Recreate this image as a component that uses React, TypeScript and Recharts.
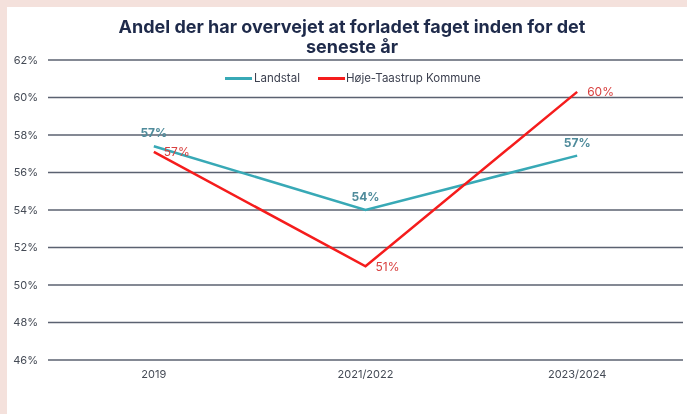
import { LineChart, Line, XAxis, YAxis, CartesianGrid, LabelList } from "recharts";

const years = ["2019", "2021/2022", "2023/2024"];
const landstal = [57.4, 54.0, 56.9];
const hojeTaastrup = [57.1, 51.0, 60.3];
const yTicks = [46, 48, 50, 52, 54, 56, 58, 60, 62];

const data = years.map((year, i) => ({
  year,
  landstal: landstal[i],
  hoje: hojeTaastrup[i],
}));

const TEAL = "#38a9b6";
const RED = "#f51c1c";
const FONT = "Inter, 'Noto Sans', sans-serif";

const pct = (v: unknown) => `${Math.round(Number(v))}%`;

const App = () => {
  return (
    <div
      style={{
        position: "fixed",
        left: 0,
        top: 0,
        width: 687,
        height: 414,
        background: "#f4e1dc",
        fontFamily: FONT,
      }}
    >
      <div
        style={{
          position: "absolute",
          left: 7,
          top: 7,
          width: 680,
          height: 407,
          background: "#ffffff",
        }}
      >
        <div
          style={{
            position: "absolute",
            left: 0,
            top: 10,
            width: 690,
            textAlign: "center",
            fontSize: 18,
            fontWeight: 700,
            lineHeight: "20px",
            color: "#1e2a4a",
          }}
        >
          Andel der har overvejet at forladet faget inden for det
          <br />
          seneste år
        </div>

        <div
          style={{
            position: "absolute",
            left: 218,
            top: 64,
            display: "flex",
            alignItems: "center",
            fontSize: 11.5,
            color: "#3d4150",
          }}
        >
          <span style={{ width: 27, height: 3, background: TEAL, display: "inline-block" }} />
          <span style={{ marginLeft: 2 }}>Landstal</span>
          <span
            style={{ width: 27, height: 3, background: RED, display: "inline-block", marginLeft: 18 }}
          />
          <span style={{ marginLeft: 1 }}>Høje-Taastrup Kommune</span>
        </div>

        <LineChart
          width={680}
          height={407}
          data={data}
          margin={{ top: 53, right: 4, bottom: 24, left: 0 }}
        >
          <CartesianGrid vertical={false} stroke="#5b6271" strokeWidth={1.5} />
          <XAxis
            dataKey="year"
            scale="band"
            axisLine={false}
            tickLine={false}
            tick={{ fontSize: 11, fill: "#444a55", fontFamily: FONT }}
            tickMargin={4}
          />
          <YAxis
            width={41}
            domain={[46, 62]}
            ticks={yTicks}
            tickFormatter={(v) => `${v}%`}
            axisLine={false}
            tickLine={false}
            tick={{ fontSize: 11, fill: "#444a55", fontFamily: FONT }}
            tickMargin={4}
          />
          <Line
            dataKey="landstal"
            stroke={TEAL}
            strokeWidth={2.5}
            dot={false}
            isAnimationActive={false}
          >
            <LabelList
              dataKey="landstal"
              position="top"
              offset={9}
              formatter={pct}
              style={{ fill: "#4f8b9b", fontSize: 12, fontWeight: 700, fontFamily: FONT }}
            />
          </Line>
          <Line
            dataKey="hoje"
            stroke={RED}
            strokeWidth={2.5}
            dot={false}
            isAnimationActive={false}
          >
            <LabelList
              dataKey="hoje"
              position="right"
              offset={10}
              formatter={pct}
              style={{ fill: "#d8403f", fontSize: 12, fontFamily: FONT }}
            />
          </Line>
        </LineChart>
      </div>
    </div>
  );
};

export default App;
